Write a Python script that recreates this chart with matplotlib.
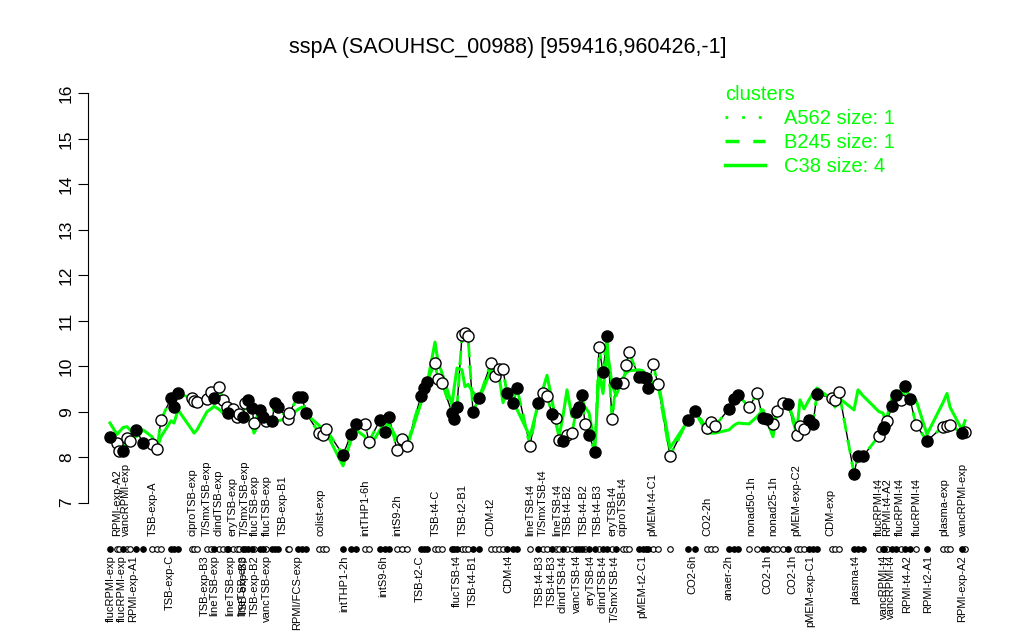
import matplotlib
matplotlib.use("Agg")
import matplotlib.pyplot as plt
from matplotlib.lines import Line2D
from matplotlib.transforms import blended_transform_factory

plt.rcParams['font.family'] = ['Liberation Sans', 'DejaVu Sans']

title = "sspA (SAOUHSC_00988) [959416,960426,-1]"

# sample positions along the x axis (arbitrary order units)
pos = [0, 7, 9, 13, 17, 20, 26, 33, 42, 47, 51, 61, 64, 68, 82, 84, 87, 97, 101, 104,
       109, 113, 117, 118, 123, 127, 129, 133, 135, 138, 142, 144, 150, 153, 156, 162, 165, 168, 178, 179,
       188, 192, 196, 209, 213, 216, 233, 241, 246, 255, 259, 270, 275, 279, 287, 292, 297, 311, 314, 317,
       325, 328, 332, 342, 344, 347, 352, 355, 358, 363, 369, 381, 385, 389, 393, 397, 403, 407, 420, 428,
       433, 437, 442, 446, 449, 453, 457, 462, 466, 469, 472, 475, 479, 485, 489, 493, 497, 502, 506, 513,
       516, 519, 529, 533, 536, 538, 543, 548, 560, 578, 585, 597, 601, 605, 619, 624, 628, 639, 647, 653,
       657, 663, 667, 673, 678, 687, 690, 694, 699, 703, 707, 722, 725, 729, 744, 748, 753, 769, 773, 774,
       777, 782, 786, 791, 795, 800, 806, 817, 833, 837, 840, 852, 855]

# expression values of sspA
expr = [8.45, 8.32, 8.14, 8.14, 8.42, 8.36, 8.60, 8.32, 8.30, 8.18, 8.82, 9.30, 9.10, 9.40, 9.30, 9.24, 9.22, 9.28, 9.44, 9.30,
        9.55, 9.26, 9.10, 8.97, 9.06, 8.89, 8.95, 8.89, 9.20, 9.26, 9.08, 8.75, 9.04, 8.89, 8.80, 8.80, 9.20, 9.10, 8.84, 8.97,
        9.32, 9.32, 8.97, 8.53, 8.48, 8.62, 8.05, 8.50, 8.73, 8.73, 8.34, 8.82, 8.56, 8.89, 8.16, 8.40, 8.25, 9.35, 9.52, 9.66,
        10.07, 9.71, 9.63, 8.97, 8.84, 9.10, 10.68, 10.72, 10.66, 9.00, 9.30, 10.07, 9.79, 9.93, 9.93, 9.40, 9.20, 9.52, 8.25, 9.20,
        9.40, 9.34, 8.95, 8.86, 8.38, 8.36, 8.48, 8.53, 9.00, 9.10, 9.37, 8.73, 8.48, 8.12, 10.42, 9.87, 10.66, 8.84, 9.63, 9.63,
        10.03, 10.31, 9.76, 9.76, 9.74, 9.52, 10.05, 9.60, 8.03, 8.82, 9.02, 8.64, 8.78, 8.69, 9.06, 9.28, 9.37, 9.10, 9.40, 8.86,
        8.84, 8.73, 9.02, 9.20, 9.16, 8.48, 8.69, 8.62, 8.82, 8.73, 9.39, 9.30, 9.26, 9.44, 7.64, 8.03, 8.02, 8.47, 8.62, 8.67,
        8.80, 9.12, 9.37, 9.26, 9.57, 9.28, 8.71, 8.36, 8.67, 8.69, 8.71, 8.53, 8.56]

# 1 = filled marker, 0 = open marker
filled = [1, 0, 0, 1, 0, 0, 1, 1, 0, 0, 0, 1, 1, 1, 0, 0, 0, 0, 0, 1,
          0, 0, 0, 1, 0, 0, 0, 1, 0, 1, 1, 0, 1, 1, 0, 1, 1, 1, 0, 0,
          1, 1, 1, 0, 0, 0, 1, 1, 1, 0, 0, 1, 1, 1, 0, 0, 0, 1, 1, 1,
          0, 0, 0, 1, 1, 1, 0, 0, 0, 1, 1, 0, 0, 0, 0, 1, 1, 1, 0, 1,
          0, 0, 1, 0, 0, 1, 0, 0, 1, 1, 1, 0, 1, 1, 0, 1, 1, 0, 1, 0,
          0, 0, 1, 1, 1, 1, 0, 0, 0, 1, 1, 0, 0, 0, 1, 1, 1, 0, 0, 1,
          1, 0, 0, 0, 1, 0, 0, 0, 1, 1, 1, 0, 0, 0, 1, 1, 1, 0, 1, 1,
          0, 1, 1, 0, 1, 1, 0, 1, 0, 0, 0, 1, 0]

# cluster C38 mean profile
c38 = [8.75, 8.50, 8.55, 8.65, 8.67, 8.60, 8.45, 8.60, 8.45, 8.20, 8.45, 8.80, 8.75, 9.04, 8.60, 8.53, 8.60, 9.00, 9.06, 9.12,
       9.05, 8.97, 8.95, 8.93, 8.90, 8.90, 8.92, 8.95, 8.95, 8.90, 8.70, 8.53, 8.80, 8.80, 8.75, 8.75, 8.78, 8.80, 8.85, 8.90,
       9.05, 9.10, 8.95, 8.70, 8.60, 8.55, 7.81, 8.38, 8.60, 8.45, 8.20, 8.60, 8.78, 8.72, 8.40, 8.45, 8.23, 9.20, 9.40, 9.59,
       10.53, 10.10, 9.85, 9.15, 9.50, 9.96, 9.92, 9.55, 9.60, 9.43, 9.26, 9.92, 9.85, 9.80, 9.20, 9.43, 9.20, 9.05, 8.45, 9.15,
       9.50, 9.80, 9.26, 8.75, 8.45, 8.90, 9.48, 8.89, 9.04, 9.10, 9.26, 9.10, 8.98, 8.23, 9.87, 9.40, 10.40, 9.60, 9.35, 9.74,
       9.85, 9.90, 9.92, 9.90, 9.80, 9.75, 9.63, 9.70, 8.20, 8.80, 9.00, 8.53, 8.53, 8.53, 8.60, 8.70, 8.75, 8.73, 8.89, 9.04,
       8.80, 8.45, 9.04, 9.15, 9.20, 8.60, 9.26, 9.06, 9.26, 9.40, 9.52, 9.26, 9.10, 9.30, 9.04, 9.48, 9.35, 9.00, 8.97, 8.90,
       8.88, 9.30, 9.40, 9.48, 9.35, 9.26, 9.26, 8.50, 9.20, 9.40, 9.10, 8.60, 8.80]

# single-gene clusters A562 and B245 follow the gene profile
a562 = list(expr)
b245 = list(expr)

upper_labels = ["RPMI-exp-A2", "vancRPMI-exp", "TSB-exp-A", "ciproTSB-exp", "T/SmxTSB-exp", "clindTSB-exp",
                "eryTSB-exp", "T/SmxTSB-exp", "flucTSB-exp", "flucTSB-exp", "TSB-exp-B1", "colist-exp",
                "intTHP1-6h", "intS9-2h", "TSB-t4-C", "TSB-t2-B1", "CDM-t2", "lineTSB-t4", "T/SmxTSB-t4",
                "lineTSB-t4", "TSB-t4-B2", "TSB-t4-B2", "TSB-t4-B3", "eryTSB-t4", "ciproTSB-t4", "pMEM-t4-C1",
                "CO2-2h", "nonad50-1h", "nonad25-1h", "pMEM-exp-C2", "CDM-exp", "flucRPMI-t4", "RPMI-t4-A2",
                "flucRPMI-t4", "flucRPMI-t4", "plasma-exp", "vancRPMI-exp"]
upper_pos = [7, 16, 43, 82, 97, 109, 123, 135, 145, 157, 173, 210, 255, 287, 326, 353, 380, 420, 433,
             447, 458, 474, 488, 502, 512, 542, 597, 641, 663, 686, 720, 769, 777, 790, 807, 834, 853]

lower_labels = ["flucRPMI-exp", "flucRPMI-exp", "RPMI-exp-A1", "TSB-exp-C", "TSB-exp-B3", "lineTSB-exp",
                "lineTSB-exp", "lineTSB-exp", "TSB-exp-B3", "TSB-exp-B2", "vancTSB-exp", "RPMI/FCS-exp",
                "intTHP1-2h", "intS9-6h", "TSB-t2-C", "flucTSB-t4", "TSB-t4-B1", "CDM-t4", "TSB-t4-B3",
                "TSB-t4-B3", "clindTSB-t4", "vancTSB-t4", "eryTSB-t4", "clindTSB-t4", "T/SmxTSB-t4",
                "pMEM-t2-C1", "CO2-6h", "anaer-2h", "CO2-1h", "CO2-1h", "pMEM-exp-C1", "plasma-t4",
                "vancRPMI-t4", "vancRPMI-t4", "RPMI-t4-A2", "RPMI-t2-A1", "RPMI-exp-A2"]
lower_pos = [1, 12, 23, 60, 95, 104, 120, 132, 134, 145, 157, 187, 234, 273, 310, 347, 363, 398, 430,
             442, 452, 467, 480, 493, 505, 532, 582, 619, 657, 682, 700, 745, 774, 781, 797, 818, 852]

legend_labels = ["A562 size: 1", "B245 size: 1", "C38 size: 4"]
yticks = [7, 8, 9, 10, 11, 12, 13, 14, 15, 16]

GREEN = "#00FF00"

fig = plt.figure(figsize=(10.24, 6.4), dpi=100)
ax = fig.add_axes([88 / 1024, (640 - 519) / 640, (988 - 88) / 1024, (519 - 77) / 640])
ax.set_xlim(-22, 878)
ax.set_ylim(6.64, 16.36)

ax.plot(pos, expr, color="black", lw=1.0, zorder=2)
ax.plot(pos, a562, color=GREEN, lw=2, linestyle=(0, (1, 3)), zorder=3)
ax.plot(pos, b245, color=GREEN, lw=2, linestyle=(0, (4, 4)), zorder=3)
ax.plot(pos, c38, color=GREEN, lw=2.2, linestyle="-", zorder=3)

fx = [p for p, f in zip(pos, filled) if f]
fy = [v for v, f in zip(expr, filled) if f]
ox = [p for p, f in zip(pos, filled) if not f]
oy = [v for v, f in zip(expr, filled) if not f]
ax.plot(ox, oy, linestyle="none", marker="o", ms=8, mfc="white", mec="black", mew=1.0, zorder=4)
ax.plot(fx, fy, linestyle="none", marker="o", ms=8, mfc="black", mec="black", mew=1.0, zorder=5)

trans = blended_transform_factory(ax.transData, ax.transAxes)
rug_y = (519 - 549) / 442
ax.plot(ox, [rug_y] * len(ox), transform=trans, linestyle="none", marker="o", ms=4,
        mfc="white", mec="black", mew=0.8, clip_on=False)
ax.plot(fx, [rug_y] * len(fx), transform=trans, linestyle="none", marker="o", ms=4,
        mfc="black", mec="black", mew=0.8, clip_on=False)

for lab, p in zip(upper_labels, upper_pos):
    ax.text(p, (519 - 536) / 442, lab, transform=trans, rotation=90, ha="center", va="bottom",
            fontsize=8, clip_on=False)
for lab, p in zip(lower_labels, lower_pos):
    ax.text(p, (519 - 555) / 442, lab, transform=trans, rotation=90, ha="center", va="top",
            fontsize=8, clip_on=False)

for s in ["top", "right", "bottom"]:
    ax.spines[s].set_visible(False)
ax.spines["left"].set_bounds(7, 16)
ax.set_xticks([])
ax.set_yticks(yticks)
ax.set_yticklabels([str(t) for t in yticks], rotation=90, va="center", fontsize=12.5)
ax.tick_params(axis="y", length=7, pad=3)

fig.text(508 / 1024, 1 - 47 / 640, title, ha="center", va="center", fontsize=15.5)

handles = [Line2D([], [], color=GREEN, lw=2, linestyle=(0, (1, 5))),
           Line2D([], [], color=GREEN, lw=2.5, linestyle=(0, (4, 4))),
           Line2D([], [], color=GREEN, lw=2.5, linestyle="-")]
leg = ax.legend(handles, legend_labels, title="clusters", loc="upper left",
                bbox_to_anchor=(715 / 1024, 1 - 75 / 640), bbox_transform=fig.transFigure,
                frameon=False, fontsize=14.5, title_fontsize=14.5, handlelength=2.0,
                handletextpad=0.95, labelspacing=0.25, borderpad=0, alignment="left")
leg.get_title().set_color(GREEN)
for t in leg.get_texts():
    t.set_color(GREEN)

fig.savefig("out.png", dpi=100)
